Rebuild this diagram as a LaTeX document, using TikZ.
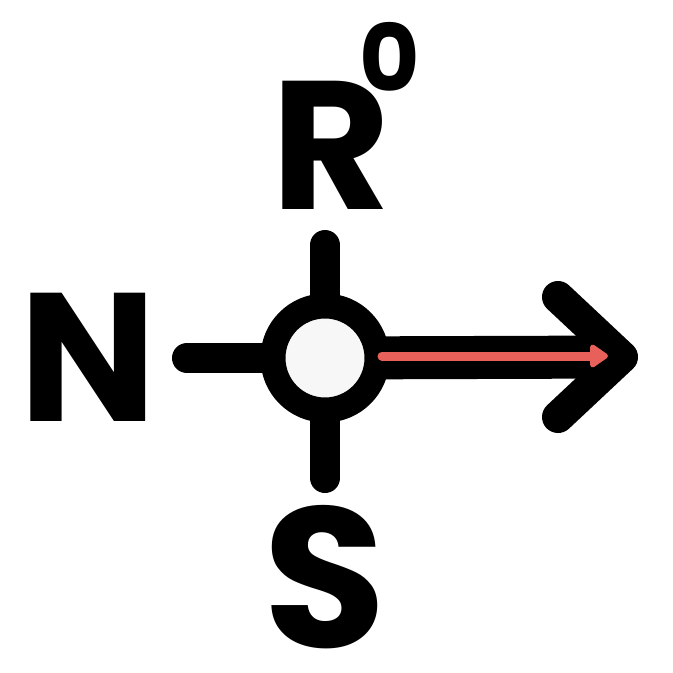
\documentclass[tikz,border=0pt]{standalone}
\usepackage{fontspec}
\usetikzlibrary{arrows.meta, positioning}
\newfontfamily\lblfont{Poppins}
\definecolor{hubfill}{HTML}{F7F7F7}
\definecolor{flowred}{HTML}{E8605A}

\begin{document}
\begin{tikzpicture}[x=0.025cm, y=-0.025cm, line cap=round, line join=round,
  hub/.style={circle, draw, line width=0.625cm, fill=hubfill, minimum size=2.6cm, inner sep=0pt},
  spoke/.style={line width=0.75cm},
  letter/.style={inner sep=0pt, font=\lblfont\bfseries\fontsize{130}{130}\selectfont},
  flow/.style={draw=flowred, line width=0.225cm, -{Triangle[length=0.5cm, width=0.65cm, round]}}]
\useasboundingbox (0,0) rectangle (673,673);
\node[letter] (N)   at (88,357)  {N};
\node[letter] (R)   at (331,145) {R};
\node[letter, font=\lblfont\bfseries\fontsize{142}{142}\selectfont] (S) at (325,577) {S};
\node[inner sep=0pt, font=\lblfont\bfseries\fontsize{66}{66}\selectfont] (EXP) at (390,57) {0};
\coordinate (C)   at (325,358);
\coordinate (W)   at (187,358);
\coordinate (U)   at (325,245);
\coordinate (D)   at (325,478);
\coordinate (TIP) at (622,357);
\coordinate (B1)  at (558,297);
\coordinate (B2)  at (558,417);
\coordinate (RS)  at (382,356);
\coordinate (RE)  at (608,356);
% spokes and arrow, hub on top
\draw[spoke] (W) -- (C);
\draw[spoke] (U) -- (C);
\draw[spoke] (D) -- (C);
\draw[line width=1.075cm, line cap=butt] (C) -- (TIP);
\draw[line width=0.8cm] (B1) -- (TIP) -- (B2);
\node[hub] (HUB) at (C) {};
\draw[flow] (RS) -- (RE);
\end{tikzpicture}
\end{document}
